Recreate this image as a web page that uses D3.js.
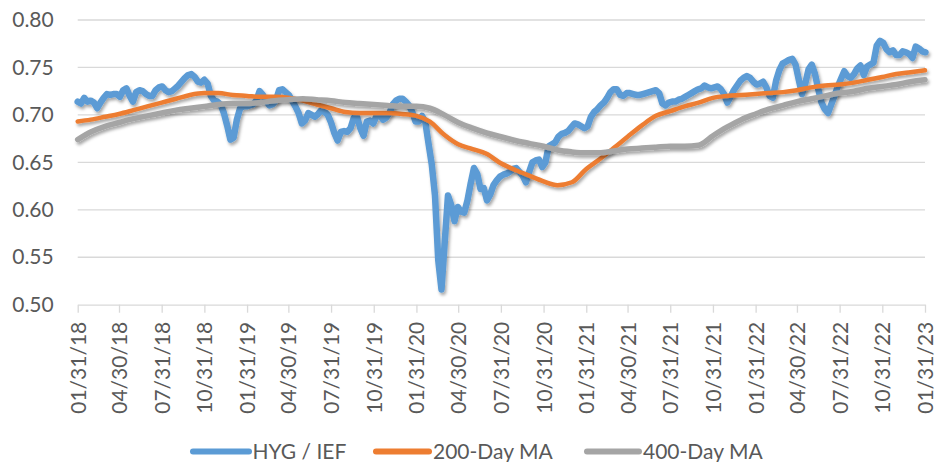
<!DOCTYPE html>
<html>
<head>
<meta charset="utf-8">
<script src="https://cdn.jsdelivr.net/npm/d3@7"></script>
<style>
  html, body { margin: 0; padding: 0; background: #fff; }
  svg { display: block; font-family: Lato, "Open Sans", sans-serif; }
</style>
</head>
<body>
<div id="chart"></div>
<script>
// ---------------- DATA ----------------
const seriesNames = ["HYG / IEF", "200-Day MA", "400-Day MA"];
const seriesColors = ["#5b9bd5", "#ed7d31", "#a5a5a5"];

// HYG / IEF ratio, weekly readings starting 01/31/18 (7-day step)
const hygStart = "2018-01-31";
const hygStepDays = 7;
const hygIef = [
  0.714,0.712,0.718,0.714,0.715,0.713,0.707,0.713,0.718,0.722,
  0.721,0.722,0.722,0.719,0.726,0.728,0.720,0.714,0.724,0.726,
  0.725,0.722,0.720,0.720,0.726,0.729,0.730,0.726,0.724,0.725,
  0.728,0.731,0.735,0.739,0.742,0.743,0.740,0.735,0.734,0.737,
  0.733,0.720,0.715,0.714,0.711,0.702,0.689,0.674,0.676,0.695,
  0.707,0.709,0.709,0.710,0.711,0.715,0.725,0.721,0.715,0.710,
  0.711,0.715,0.726,0.727,0.724,0.721,0.715,0.709,0.702,0.691,
  0.694,0.702,0.700,0.698,0.701,0.705,0.703,0.700,0.692,0.681,
  0.673,0.682,0.683,0.682,0.686,0.697,0.698,0.686,0.678,0.693,
  0.694,0.691,0.699,0.700,0.695,0.697,0.702,0.711,0.715,0.717,
  0.717,0.714,0.710,0.703,0.693,0.693,0.699,0.693,0.670,0.648,
  0.615,0.547,0.516,0.566,0.615,0.605,0.588,0.603,0.598,0.597,
  0.610,0.628,0.644,0.638,0.622,0.623,0.610,0.616,0.626,0.631,
  0.635,0.637,0.638,0.640,0.643,0.644,0.640,0.636,0.629,0.640,
  0.650,0.652,0.653,0.645,0.650,0.667,0.669,0.671,0.677,0.680,
  0.681,0.683,0.687,0.691,0.690,0.688,0.686,0.688,0.698,0.703,
  0.706,0.710,0.713,0.718,0.724,0.727,0.727,0.721,0.720,0.723,
  0.723,0.722,0.721,0.721,0.722,0.723,0.724,0.725,0.726,0.723,
  0.712,0.710,0.713,0.714,0.714,0.716,0.717,0.719,0.721,0.723,
  0.725,0.727,0.728,0.731,0.729,0.728,0.729,0.730,0.727,0.722,
  0.713,0.719,0.726,0.731,0.736,0.739,0.741,0.739,0.735,0.732,
  0.733,0.735,0.729,0.720,0.718,0.736,0.747,0.754,0.756,0.758,
  0.759,0.753,0.737,0.722,0.733,0.748,0.753,0.743,0.727,0.713,
  0.706,0.702,0.711,0.720,0.730,0.738,0.746,0.741,0.739,0.743,
  0.749,0.752,0.742,0.751,0.753,0.755,0.773,0.778,0.776,0.769,
  0.766,0.768,0.763,0.763,0.767,0.766,0.764,0.760,0.772,0.770,
  0.767,0.766
];

// Moving averages, month-end readings Jan-2018 .. Jan-2023
const maStartYear = 2018;
const maStartMonth = 0; // January
const ma200 = [
  0.693,0.695,0.698,0.701,0.705,0.709,0.713,0.717,0.721,0.723,
  0.723,0.721,0.720,0.719,0.719,0.718,0.715,0.711,0.707,0.703,
  0.702,0.702,0.702,0.701,0.699,0.693,0.679,0.669,0.664,0.659,
  0.649,0.642,0.636,0.630,0.626,0.629,0.643,0.653,0.665,0.677,
  0.689,0.699,0.704,0.709,0.713,0.718,0.720,0.721,0.722,0.723,
  0.724,0.726,0.729,0.731,0.732,0.734,0.737,0.740,0.743,0.745,
  0.747
];
const ma400 = [
  0.674,0.682,0.688,0.692,0.696,0.699,0.702,0.705,0.707,0.709,
  0.711,0.712,0.712,0.713,0.715,0.716,0.717,0.716,0.715,0.713,
  0.712,0.711,0.710,0.709,0.709,0.707,0.700,0.692,0.686,0.681,
  0.677,0.673,0.670,0.667,0.663,0.661,0.660,0.660,0.662,0.664,
  0.665,0.666,0.667,0.667,0.668,0.678,0.687,0.695,0.701,0.706,
  0.710,0.714,0.717,0.720,0.723,0.725,0.728,0.730,0.732,0.735,
  0.737
];

const xTickLabels = [
  "01/31/18","04/30/18","07/31/18","10/31/18",
  "01/31/19","04/30/19","07/31/19","10/31/19",
  "01/31/20","04/30/20","07/31/20","10/31/20",
  "01/31/21","04/30/21","07/31/21","10/31/21",
  "01/31/22","04/30/22","07/31/22","10/31/22",
  "01/31/23"
];
const yTickValues = [0.50, 0.55, 0.60, 0.65, 0.70, 0.75, 0.80];

// ---------------- CHART ----------------
const W = 936, H = 462;
const plot = { left: 77.7, right: 925, top: 20, bottom: 304.7 };
const textColor = "#595959";
const gridColor = "#d9d9d9";

const parseTick = d3.utcParse("%m/%d/%y");
const fmtTick = d3.utcFormat("%m/%d/%y");
const tickDates = xTickLabels.map(parseTick);

const x = d3.scaleUtc()
  .domain([tickDates[0], tickDates[tickDates.length - 1]])
  .range([plot.left, plot.right]);
const y = d3.scaleLinear().domain([0.50, 0.80]).range([plot.bottom, plot.top]);

const start = d3.utcParse("%Y-%m-%d")(hygStart);
const hygData = hygIef.map((v, i) => ({ date: d3.utcDay.offset(start, i * hygStepDays), value: v }));
const maDate = i => new Date(Date.UTC(maStartYear, maStartMonth + i + 1, 0));
const ma200Data = ma200.map((v, i) => ({ date: maDate(i), value: v }));
const ma400Data = ma400.map((v, i) => ({ date: maDate(i), value: v }));

const svg = d3.select("#chart").append("svg").attr("width", W).attr("height", H);

const defs = svg.append("defs");
const f = defs.append("filter").attr("id", "shadow")
  .attr("filterUnits", "userSpaceOnUse")
  .attr("x", 0).attr("y", 0).attr("width", W).attr("height", H);
f.append("feDropShadow")
  .attr("dx", 1.5).attr("dy", 2.5).attr("stdDeviation", 1.8)
  .attr("flood-color", "#000").attr("flood-opacity", 0.35);

// gridlines
svg.append("g").selectAll("line").data(yTickValues.slice(1)).join("line")
  .attr("x1", plot.left).attr("x2", plot.right)
  .attr("y1", d => y(d)).attr("y2", d => y(d))
  .attr("stroke", gridColor).attr("stroke-width", 1.3);

// y axis labels
const yAxis = d3.axisLeft(y).tickValues(yTickValues).tickFormat(d3.format(".2f")).tickSize(0).tickPadding(24);
const gy = svg.append("g").attr("transform", `translate(${plot.left},0)`).call(yAxis);
gy.select(".domain").remove();
gy.selectAll("text").attr("fill", textColor).style("font-size", "21px").style("font-family", "Lato, 'Open Sans', sans-serif");

// x axis
const xAxis = d3.axisBottom(x).tickValues(tickDates).tickFormat(fmtTick).tickSize(8).tickSizeOuter(0);
const gx = svg.append("g").attr("transform", `translate(0,${plot.bottom})`).call(xAxis);
gx.select(".domain").attr("stroke", gridColor).attr("stroke-width", 1.3);
gx.selectAll(".tick line").attr("stroke", gridColor).attr("stroke-width", 1.3);
gx.selectAll("text")
  .attr("fill", textColor)
  .style("font-size", "21px").style("font-family", "Lato, 'Open Sans', sans-serif")
  .attr("text-anchor", "end")
  .attr("transform", "rotate(-90)")
  .attr("x", -17).attr("y", 0).attr("dy", "0.36em");

// lines
const lineLinear = d3.line().x(d => x(d.date)).y(d => y(d.value));
const lineSmooth = d3.line().x(d => x(d.date)).y(d => y(d.value)).curve(d3.curveMonotoneX);

const gl = svg.append("g");
gl.append("path").datum(hygData).attr("d", lineLinear)
  .attr("fill", "none").attr("stroke", seriesColors[0]).attr("stroke-width", 6.5)
  .attr("stroke-linejoin", "round").attr("stroke-linecap", "round").attr("filter", "url(#shadow)");
gl.append("path").datum(ma200Data).attr("d", lineSmooth)
  .attr("fill", "none").attr("stroke", seriesColors[1]).attr("stroke-width", 4.5)
  .attr("stroke-linejoin", "round").attr("stroke-linecap", "round").attr("filter", "url(#shadow)");
gl.append("path").datum(ma400Data).attr("d", lineSmooth)
  .attr("fill", "none").attr("stroke", seriesColors[2]).attr("stroke-width", 5.5)
  .attr("stroke-linejoin", "round").attr("stroke-linecap", "round").attr("filter", "url(#shadow)");

// legend
const legendItems = [
  { name: seriesNames[0], color: seriesColors[0], x1: 193, x2: 249, tx: 252.5 },
  { name: seriesNames[1], color: seriesColors[1], x1: 376, x2: 429, tx: 433 },
  { name: seriesNames[2], color: seriesColors[2], x1: 587, x2: 639, tx: 643 }
];
const legendY = 451.5;
const lg = svg.append("g");
legendItems.forEach(it => {
  lg.append("line").attr("x1", it.x1).attr("x2", it.x2).attr("y1", legendY).attr("y2", legendY)
    .attr("stroke", it.color).attr("stroke-width", 6).attr("stroke-linecap", "round");
  lg.append("text").attr("x", it.tx).attr("y", legendY).attr("dy", "0.36em")
    .attr("fill", textColor).style("font-size", "21px").text(it.name);
});
</script>
</body>
</html>
